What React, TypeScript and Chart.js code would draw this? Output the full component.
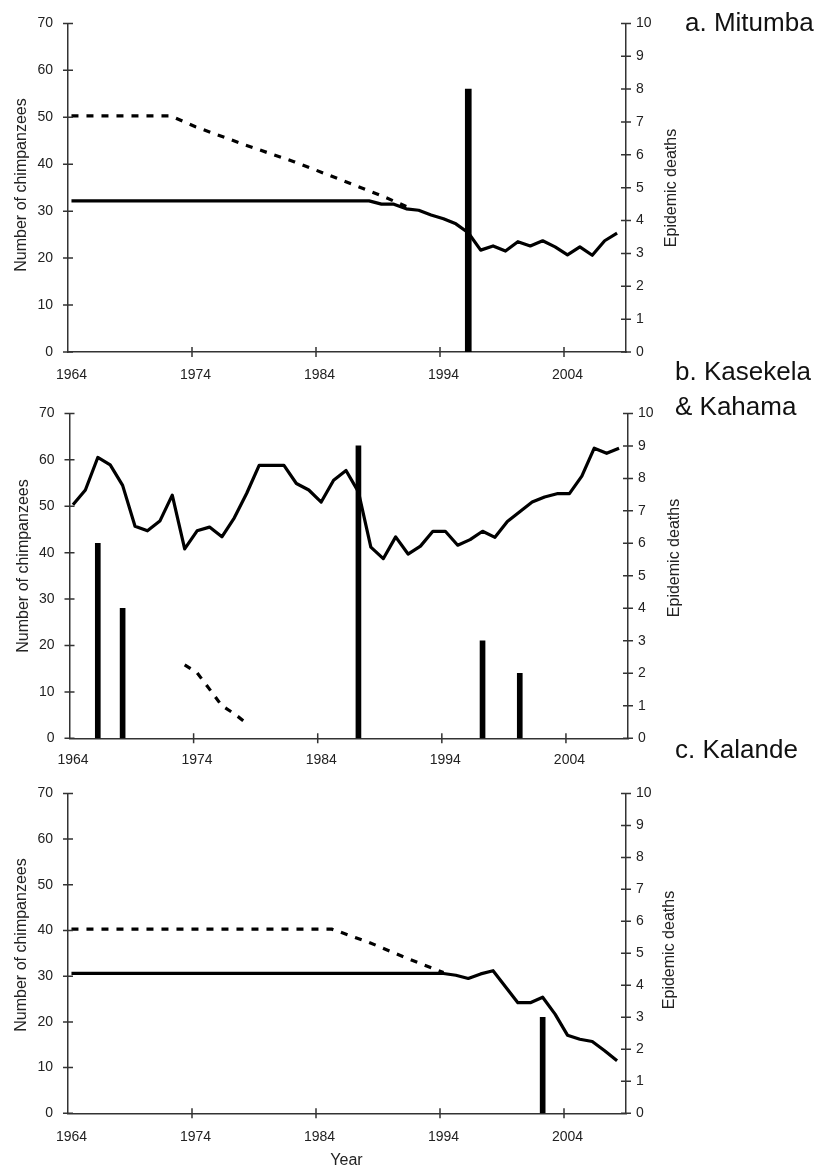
import React, { useEffect, useRef } from 'react';
import { Chart, registerables } from 'chart.js';

Chart.register(...registerables);

// ---------- shared axis values ----------
const yearTickLabels = [1964, 1974, 1984, 1994, 2004];
const xStart = 1963.72;
const xEnd = 2008.72;
const countMax = 70;
const countStep = 10;
const deathsMax = 10;
const deathsStep = 1;

// ---------- a. Mitumba ----------
const aSolidYears = [1964, 1988, 1989, 1990, 1991, 1992, 1993, 1994, 1995, 1996, 1997, 1998, 1999, 2000, 2001, 2002, 2003, 2004, 2005, 2006, 2007, 2008];
const aSolidCounts = [32.2, 32.2, 31.5, 31.5, 30.5, 30.2, 29.2, 28.4, 27.3, 25.4, 21.7, 22.6, 21.5, 23.5, 22.6, 23.7, 22.4, 20.7, 22.4, 20.6, 23.7, 25.3];
const aDashYears = [1964, 1972, 1974, 1978, 1982, 1986, 1989, 1991];
const aDashCounts = [50.3, 50.3, 48.0, 44.1, 40.5, 36.4, 33.3, 31.0];
const aEpiYears = [1996];
const aEpiDeaths = [8];

// ---------- b. Kasekela & Kahama ----------
const bSolidYears = [1964, 1965, 1966, 1967, 1968, 1969, 1970, 1971, 1972, 1973, 1974, 1975, 1976, 1977, 1978, 1979, 1980, 1981, 1982, 1983, 1984, 1985, 1986, 1987, 1988, 1989, 1990, 1991, 1992, 1993, 1994, 1995, 1996, 1997, 1998, 1999, 2000, 2001, 2002, 2003, 2004, 2005, 2006, 2007, 2008];
const bSolidCounts = [50.3, 53.5, 60.5, 58.9, 54.5, 45.7, 44.7, 46.8, 52.4, 40.8, 44.7, 45.5, 43.4, 47.5, 52.8, 58.8, 58.8, 58.8, 54.9, 53.5, 50.9, 55.6, 57.7, 53.1, 41.2, 38.7, 43.4, 39.7, 41.4, 44.6, 44.6, 41.6, 42.8, 44.6, 43.3, 46.7, 48.8, 50.9, 52.0, 52.7, 52.7, 56.5, 62.5, 61.4, 62.5];
const bDashYears = [1973, 1974, 1975, 1976, 1977, 1978];
const bDashCounts = [15.8, 14.1, 10.6, 7.0, 5.3, 3.2];
const bEpiYears = [1966, 1968, 1987, 1997, 2000];
const bEpiDeaths = [6, 4, 9, 3, 2];

// ---------- c. Kalande ----------
const cSolidYears = [1964, 1994, 1995, 1996, 1997, 1998, 2000, 2001, 2002, 2003, 2004, 2005, 2006, 2007, 2008];
const cSolidCounts = [30.6, 30.6, 30.2, 29.5, 30.5, 31.2, 24.2, 24.2, 25.4, 21.7, 17.1, 16.2, 15.7, 13.7, 11.5];
const cDashYears = [1964, 1985, 1988, 1991, 1994];
const cDashCounts = [40.3, 40.3, 37.4, 34.0, 30.8];
const cEpiYears = [2002];
const cEpiDeaths = [3];

const FONT = '"Liberation Sans", Arial, Helvetica, sans-serif';
const TEXT = '#222';
const AXIS = '#333';

Chart.defaults.font.family = FONT;

type Panel = {
  top: number;
  height: number;
  chartTop: number;
  chartBottom: number;
  chartLeft: number;
  chartRight: number;
  barWidth: number;
  xLabelPad: number;
  solidYears: number[];
  solidCounts: number[];
  dashYears: number[];
  dashCounts: number[];
  epiYears: number[];
  epiDeaths: number[];
};

const PAGE_W = 817;

const panels: Panel[] = [
  { top: 0, height: 390, chartTop: 20, chartBottom: 352, chartLeft: 68, chartRight: 626, barWidth: 6, xLabelPad: 15,
    solidYears: aSolidYears, solidCounts: aSolidCounts, dashYears: aDashYears, dashCounts: aDashCounts, epiYears: aEpiYears, epiDeaths: aEpiDeaths },
  { top: 390, height: 380, chartTop: 16.7, chartBottom: 348.3, chartLeft: 69.5, chartRight: 628, barWidth: 5, xLabelPad: 13,
    solidYears: bSolidYears, solidCounts: bSolidCounts, dashYears: bDashYears, dashCounts: bDashCounts, epiYears: bEpiYears, epiDeaths: bEpiDeaths },
  { top: 770, height: 398, chartTop: 12.3, chartBottom: 343.3, chartLeft: 68, chartRight: 626, barWidth: 5, xLabelPad: 15,
    solidYears: cSolidYears, solidCounts: cSolidCounts, dashYears: cDashYears, dashCounts: cDashCounts, epiYears: cEpiYears, epiDeaths: cEpiDeaths },
];

const crossTicks = {
  id: 'crossTicks',
  afterDraw(chart: any) {
    const { ctx, chartArea } = chart;
    const { x, y, y1 } = chart.scales;
    ctx.save();
    ctx.strokeStyle = AXIS;
    ctx.lineWidth = 1.5;
    ctx.beginPath();
    y.ticks.forEach((t: any) => {
      const py = y.getPixelForValue(t.value);
      ctx.moveTo(chartArea.left - 5, py);
      ctx.lineTo(chartArea.left + 5, py);
    });
    y1.ticks.forEach((t: any) => {
      const py = y1.getPixelForValue(t.value);
      ctx.moveTo(chartArea.right - 5, py);
      ctx.lineTo(chartArea.right + 5, py);
    });
    for (let k = 1; k < yearTickLabels.length; k++) {
      const px = x.getPixelForValue(x.min + k * 10);
      ctx.moveTo(px, chartArea.bottom - 5);
      ctx.lineTo(px, chartArea.bottom + 5);
    }
    ctx.stroke();
    ctx.restore();
  },
};

function toXY(xs: number[], ys: number[]) {
  return xs.map((v, i) => ({ x: v, y: ys[i] }));
}

function makeConfig(p: Panel): any {
  const tickFont = { size: 14, family: FONT };
  return {
    type: 'line',
    data: {
      datasets: [
        {
          type: 'line', data: toXY(p.solidYears, p.solidCounts), borderColor: '#000', borderWidth: 3.2,
          pointRadius: 0, tension: 0, fill: false, yAxisID: 'y', xAxisID: 'x', borderJoinStyle: 'round',
        },
        {
          type: 'line', data: toXY(p.dashYears, p.dashCounts), borderColor: '#000', borderWidth: 3.2,
          borderDash: [7, 8], pointRadius: 0, tension: 0, fill: false, yAxisID: 'y', xAxisID: 'x',
        },
        {
          type: 'bar', data: toXY(p.epiYears, p.epiDeaths), backgroundColor: '#000', borderWidth: 0,
          barThickness: p.barWidth, yAxisID: 'y1', xAxisID: 'x',
        },
      ],
    },
    options: {
      animation: false,
      responsive: false,
      maintainAspectRatio: false,
      events: [],
      layout: { padding: { top: p.chartTop, left: 0, right: 0, bottom: 0 } },
      plugins: { legend: { display: false }, tooltip: { enabled: false }, title: { display: false } },
      scales: {
        x: {
          type: 'linear', position: 'bottom', min: xStart, max: xEnd, offset: false,
          grid: { display: false, drawTicks: false },
          border: { display: true, color: AXIS, width: 1.5 },
          afterBuildTicks: (s: any) => { s.ticks = yearTickLabels.map((v) => ({ value: v })); },
          afterFit: (s: any) => { s.height = p.height - p.chartBottom; },
          ticks: { callback: (v: any) => String(v), font: tickFont, color: TEXT, padding: p.xLabelPad, maxRotation: 0, autoSkip: false },
        },
        y: {
          type: 'linear', position: 'left', min: 0, max: countMax,
          grid: { display: false, drawTicks: false },
          border: { display: true, color: AXIS, width: 1.5 },
          afterFit: (s: any) => { s.width = p.chartLeft; },
          ticks: { stepSize: countStep, font: tickFont, color: TEXT, padding: 15 },
        },
        y1: {
          type: 'linear', position: 'right', min: 0, max: deathsMax,
          grid: { display: false, drawTicks: false },
          border: { display: true, color: AXIS, width: 1.5 },
          afterFit: (s: any) => { s.width = PAGE_W - p.chartRight; },
          ticks: { stepSize: deathsStep, font: tickFont, color: TEXT, padding: 10 },
        },
      },
    },
    plugins: [crossTicks],
  };
}

function PanelChart({ p }: { p: Panel }) {
  const ref = useRef<HTMLCanvasElement | null>(null);
  useEffect(() => {
    if (!ref.current) return;
    const chart = new Chart(ref.current, makeConfig(p));
    return () => chart.destroy();
  }, [p]);
  return (
    <canvas
      ref={ref}
      width={PAGE_W}
      height={p.height}
      style={{ position: 'absolute', left: 0, top: p.top, width: PAGE_W, height: p.height, display: 'block' }}
    />
  );
}

const rotStyle = (cx: number, cy: number): React.CSSProperties => ({
  position: 'absolute', left: cx, top: cy, transform: 'translate(-50%, -50%) rotate(-90deg)',
  whiteSpace: 'nowrap', fontSize: 16, lineHeight: '16px', color: TEXT,
});

const titleStyle = (left: number, top: number): React.CSSProperties => ({
  position: 'absolute', left, top, fontSize: 26, lineHeight: '26px', color: '#111', whiteSpace: 'nowrap',
});

export default function App() {
  return (
    <div style={{ position: 'absolute', left: 0, top: 0, width: PAGE_W, height: 1168, background: '#fff', fontFamily: FONT, overflow: 'hidden' }}>
      {panels.map((p, i) => <PanelChart key={i} p={p} />)}
      <div style={titleStyle(685, 8.7)}>a. Mitumba</div>
      <div style={titleStyle(675, 358)}>b. Kasekela</div>
      <div style={titleStyle(675, 393)}>&amp; Kahama</div>
      <div style={titleStyle(675, 736)}>c. Kalande</div>
      <div style={rotStyle(20.5, 184.5)}>Number of chimpanzees</div>
      <div style={rotStyle(22.5, 566)}>Number of chimpanzees</div>
      <div style={rotStyle(20.5, 945)}>Number of chimpanzees</div>
      <div style={rotStyle(671, 187.5)}>Epidemic deaths</div>
      <div style={rotStyle(674, 557.5)}>Epidemic deaths</div>
      <div style={rotStyle(668.5, 950)}>Epidemic deaths</div>
      <div style={{ position: 'absolute', left: 346.5, top: 1151.5, transform: 'translateX(-50%)', fontSize: 16, lineHeight: '16px', color: TEXT }}>Year</div>
    </div>
  );
}
